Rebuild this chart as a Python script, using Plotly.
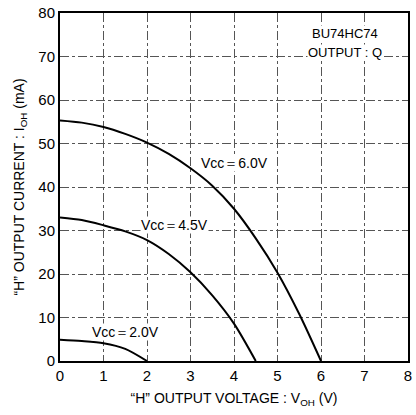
import plotly.graph_objects as go

# Output voltage V_OH (V) and output current I_OH (mA) for each supply voltage
v_60 = [0, 0.5, 1, 1.5, 2, 2.5, 3, 3.5, 4, 4.5, 5, 5.5, 6]
i_60 = [55.3, 54.8, 53.8, 52.2, 50.2, 47.6, 44.3, 40.3, 35.0, 28.2, 20.3, 10.8, 0]

v_45 = [0, 0.5, 1, 1.5, 2, 2.5, 3, 3.5, 4, 4.5]
i_45 = [33.0, 32.4, 31.2, 29.8, 27.8, 24.6, 20.4, 15.1, 8.6, 0]

v_20 = [0, 0.5, 1, 1.5, 2]
i_20 = [4.9, 4.6, 4.1, 2.8, 0]

x_ticks = [0, 1, 2, 3, 4, 5, 6, 7, 8]
y_ticks = [0, 10, 20, 30, 40, 50, 60, 70, 80]

FONT = "Liberation Sans Narrow, Liberation Sans, Arial, sans-serif"

fig = go.Figure()
for vx, iy in [(v_60, i_60), (v_45, i_45), (v_20, i_20)]:
    fig.add_trace(go.Scatter(x=vx, y=iy, mode="lines",
                             line=dict(color="black", width=2, shape="spline", smoothing=0.8),
                             showlegend=False, hoverinfo="skip"))

labels = [
    (4.0, 45.6, "Vcc＝6.0V"),
    (2.64, 31.2, "Vcc＝4.5V"),
    (1.5, 6.7, "Vcc＝2.0V"),
]
for lx, ly, txt in labels:
    fig.add_annotation(x=lx, y=ly, text=txt, showarrow=False,
                       font=dict(family=FONT, size=14, color="black"),
                       bgcolor="white", borderpad=0)

fig.add_annotation(x=6.55, y=75.4, text="BU74HC74", showarrow=False,
                   font=dict(family=FONT, size=13, color="black"), bgcolor="white", borderpad=0)
fig.add_annotation(x=6.55, y=70.9, text="OUTPUT : Q", showarrow=False, xanchor="center",
                   font=dict(family=FONT, size=13, color="black"), bgcolor="white", borderpad=0)

axis_common = dict(
    showgrid=True, gridcolor="#555555", gridwidth=1, griddash="dashdot",
    showline=True, linecolor="black", linewidth=2, mirror=True,
    ticks="", zeroline=False,
    tickfont=dict(family=FONT, size=15, color="black"),
)

fig.update_xaxes(range=[0, 8], tickvals=x_ticks, ticktext=[str(t) for t in x_ticks],
                 title=dict(text="“H” OUTPUT VOLTAGE : V<sub>OH</sub> (V)",
                            font=dict(family=FONT, size=14, color="black"), standoff=10),
                 **axis_common)
fig.update_yaxes(range=[0, 80], tickvals=y_ticks, ticktext=[str(t) for t in y_ticks],
                 title=dict(text="“H” OUTPUT CURRENT : I<sub>OH</sub> (mA)",
                            font=dict(family=FONT, size=14, color="black"), standoff=10),
                 **axis_common)

fig.update_layout(
    width=416, height=415,
    margin=dict(l=60, r=4, t=11, b=54),
    plot_bgcolor="white", paper_bgcolor="white",
)

fig.write_html("out.html")
